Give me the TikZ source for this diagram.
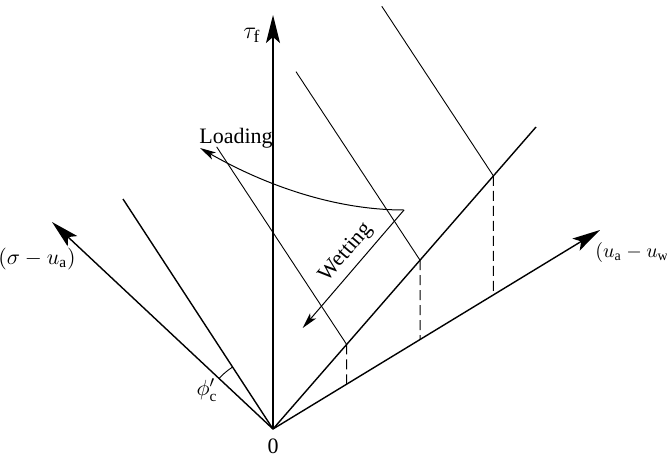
\documentclass[tikz,border=0pt]{standalone}
\usepackage{fontspec}
\setmainfont{Liberation Serif}
\usetikzlibrary{arrows.meta, calc}
\tikzset{
    axis/.style={line width=0.7pt, -{Stealth[length=14pt, width=7pt, inset=3pt]}},
    envelope/.style={line width=0.7pt},
    trace/.style={line width=0.45pt},
    projection/.style={line width=0.5pt, dash pattern=on 5pt off 2.5pt},
    path arrow/.style={line width=0.5pt, -{Stealth[length=8pt, width=4pt, inset=2pt]}},
    label/.style={font=\fontsize{11}{13}\selectfont, inner sep=0pt}
}

\begin{document}
\begin{tikzpicture}[x=0.5pt, y=0.5pt]

    \useasboundingbox (-273,-27) rectangle (394,429);

    % -----------------------------------------------------------------
    % AXES
    % -----------------------------------------------------------------
    \coordinate (O) at (0,0);
    \coordinate (tau) at (0,414);
    \coordinate (sig) at (-221,207);
    \coordinate (suc) at (327,199);

    \draw[axis] (O) -- (tau);
    \draw[axis] (O) -- (sig);
    \draw[axis] (O) -- (suc);

    \node[label] (zero) at (0,-17) {0};
    \node[label, font=\fontsize{12.5}{14}\selectfont] (taulab) at (-21,394) {$\tau_{\mathrm{f}}$};
    \node[label] (siglab) at (-236,170) {$(\sigma - u_{\mathrm{a}})$};
    \node[label, anchor=west, font=\normalsize] (suclab) at (322,177) {$(u_{\mathrm{a}} - u_{\mathrm{w}})$};

    % -----------------------------------------------------------------
    % FRICTION ANGLE
    % -----------------------------------------------------------------
    \coordinate (phi) at (-150,230);
    \draw[envelope] (O) -- (phi);
    \draw[trace] ($(O)+(136.9:74)$) arc[start angle=136.9, end angle=123.1, radius=74];
    \node[label] (philab) at (-66,39) {$\phi'_{\mathrm{c}}$};

    % -----------------------------------------------------------------
    % ENVELOPE AND TRACES
    % -----------------------------------------------------------------
    \coordinate (env) at (263,302);
    \draw[envelope] (O) -- (env);

    \foreach \i/\t/\l in {1/0.28/130, 2/0.559/124, 3/0.838/111.6} {
        \coordinate (E\i) at ($(O)!\t!(env)$);
        \coordinate (F\i) at ($(O)!{\t*263/327}!(suc)$);
        \coordinate (T\i) at ($(E\i)+(-\l,1.52*\l)$);
        \draw[trace] (E\i) -- (T\i);
        \draw[projection] (E\i) -- (F\i);
    }

    % -----------------------------------------------------------------
    % LOADING AND WETTING PATHS
    % -----------------------------------------------------------------
    \coordinate (S) at (131,219);
    \coordinate (L) at (-73,281);
    \coordinate (W) at (29.7,101);

    \draw[path arrow] (S) .. controls (60,219) and (-10,245) .. (L);
    \node[label] (loadlab) at (-37,291) {Loading};

    \draw[path arrow] (S) -- (W);
    \path (W) -- node[sloped, above, pos=0.55, inner sep=3pt, font=\fontsize{11}{13}\selectfont] (wetlab) {Wetting} (S);

\end{tikzpicture}
\end{document}
